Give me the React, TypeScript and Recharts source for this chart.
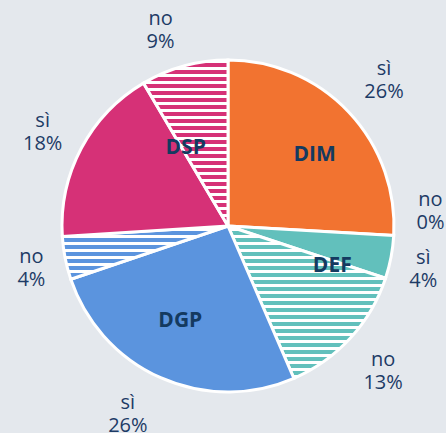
import React from 'react';
import { PieChart, Pie, Cell } from 'recharts';

const sliceNames = ['DIM sì', 'DIM no', 'DEF sì', 'DEF no', 'DGP sì', 'DGP no', 'DSP sì', 'DSP no'];
const answerLabels = ['sì', 'no', 'sì', 'no', 'sì', 'no', 'sì', 'no'];
const sliceValues = [25.9, 0, 4.2, 13.4, 26.3, 4.2, 17.5, 8.5];
const groupNames = ['DIM', 'DEF', 'DGP', 'DSP'];

const sliceData = sliceNames.map((name, i) => ({ name, answer: answerLabels[i], value: sliceValues[i] }));
const groupData = groupNames.map((name) => ({
  name,
  value: sliceData.filter((d) => d.name.startsWith(name)).reduce((a, d) => a + d.value, 0),
}));

const COLORS: Record<string, string> = { DIM: '#F27330', DEF: '#62C0BC', DGP: '#5B94DE', DSP: '#D63177' };
const fills = sliceNames.map((n) => {
  const [g, a] = n.split(' ');
  return a === 'sì' ? COLORS[g] : `url(#stripe-${g})`;
});

const CX = 228;
const CY = 226;
const R = 166;

const total = sliceValues.reduce((a, b) => a + b, 0);
// clockwise-from-top mid angles, derived from the data
const sliceMid = sliceValues.map((v, i) => {
  const before = sliceValues.slice(0, i).reduce((a, b) => a + b, 0);
  return ((before + v / 2) / total) * 360;
});

// label placement tweaks (clockwise degrees shift, distance from centre)
const outerShift = [0.2, -7.4, 1.6, 0.5, 4.1, -0.8, -0.9, -3.7];
const outerDist = [214, 203, 200, 212, 213, 201, 208, 207];
const innerShift = [3.4, -14.9, -4.5, 18.8];
const innerR = [113, 111, 105, 90];

const RAD = Math.PI / 180;
const BG = '#e4e8ed';
const TEXT = '#1d3b66';
const FONT = '"Open Sans", sans-serif';

const OuterLabel = (props: any) => {
  const { index } = props;
  const th = (sliceMid[index] + outerShift[index]) * RAD;
  const r = outerDist[index];
  const x = CX + r * Math.sin(th);
  const y = CY - r * Math.cos(th);
  return (
    <text x={x} y={y} textAnchor="middle" fill={TEXT} fontFamily={FONT} fontSize={20}>
      <tspan x={x} y={y - 5}>{sliceData[index].answer}</tspan>
      <tspan x={x} y={y + 18}>{`${Math.round(sliceData[index].value)}%`}</tspan>
    </text>
  );
};

const InnerLabel = (props: any) => {
  const { cx, cy, midAngle, index } = props;
  const ang = (midAngle - innerShift[index]) * RAD;
  const r = innerR[index];
  const x = cx + r * Math.cos(ang);
  const y = cy - r * Math.sin(ang);
  return (
    <text x={x} y={y + 7.5} textAnchor="middle" fill="#143a60" fontFamily={FONT} fontWeight={700} fontSize={21}>
      {groupData[index].name}
    </text>
  );
};

export default function App() {
  return (
    <div style={{ position: 'absolute', left: 0, top: 0, width: 446, height: 433, background: BG, overflow: 'hidden' }}>
      <svg width={0} height={0} style={{ position: 'absolute' }}>
        <defs>
          {groupNames.map((g) => (
            <pattern key={g} id={`stripe-${g}`} patternUnits="userSpaceOnUse" width={10} height={7}>
              <rect x={0} y={0} width={10} height={7} fill={COLORS[g]} />
              <rect x={0} y={4} width={10} height={3} fill="#ffffff" />
            </pattern>
          ))}
        </defs>
      </svg>
      <PieChart width={446} height={433} margin={{ top: 0, right: 0, bottom: 0, left: 0 }}>
        <Pie
          data={sliceData}
          dataKey="value"
          nameKey="name"
          cx={CX}
          cy={CY}
          outerRadius={R}
          startAngle={90}
          endAngle={-270}
          stroke="#ffffff"
          strokeWidth={3}
          label={OuterLabel}
          labelLine={false}
          isAnimationActive={false}
        >
          {sliceData.map((d, i) => (
            <Cell key={d.name} fill={fills[i]} />
          ))}
        </Pie>
        <Pie
          data={groupData}
          dataKey="value"
          nameKey="name"
          cx={CX}
          cy={CY}
          outerRadius={R}
          startAngle={90}
          endAngle={-270}
          fill="none"
          stroke="none"
          label={InnerLabel}
          labelLine={false}
          isAnimationActive={false}
        >
          {groupData.map((d) => (
            <Cell key={d.name} fill="none" stroke="none" />
          ))}
        </Pie>
      </PieChart>
    </div>
  );
}
